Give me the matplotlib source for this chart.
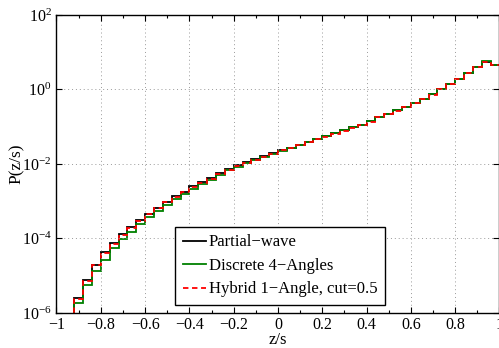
import matplotlib
matplotlib.use("Agg")
import matplotlib.pyplot as plt
import numpy as np
from matplotlib.ticker import MultipleLocator, LogLocator, NullLocator

plt.rcParams['font.family'] = ['Liberation Serif', 'DejaVu Serif']
plt.rcParams['mathtext.fontset'] = 'stix'

# bin edges (width 0.04 from -1 to 1)
edges = np.linspace(-1, 1, 51)

# log10 P(z/s) per bin
partial_log = [-9, -9, -5.60, -5.11, -4.70, -4.35, -4.12, -3.88, -3.70, -3.50,
               -3.33, -3.17, -3.02, -2.87, -2.74, -2.60, -2.49, -2.38, -2.25, -2.14,
               -2.04, -1.95, -1.87, -1.79, -1.71, -1.63, -1.56, -1.48, -1.41, -1.33,
               -1.26, -1.18, -1.10, -1.02, -0.94, -0.85, -0.74, -0.65, -0.56, -0.46,
               -0.36, -0.25, -0.13, 0.01, 0.14, 0.28, 0.44, 0.61, 0.75, 0.66]
discrete_log = [-9, -9, -5.73, -5.24, -4.88, -4.57, -4.26, -4.02, -3.83, -3.61,
                -3.43, -3.27, -3.11, -2.95, -2.81, -2.66, -2.54, -2.42, -2.29, -2.17,
                -2.07, -1.97, -1.89, -1.81, -1.72, -1.64, -1.56, -1.48, -1.41, -1.33,
                -1.26, -1.18, -1.10, -1.01, -0.94, -0.85, -0.75, -0.65, -0.56, -0.46,
                -0.36, -0.26, -0.13, 0.01, 0.14, 0.27, 0.44, 0.61, 0.76, 0.67]
hybrid_log = [-9, -9, -5.62, -5.13, -4.72, -4.38, -4.14, -3.90, -3.71, -3.52,
              -3.34, -3.18, -3.03, -2.88, -2.75, -2.61, -2.50, -2.39, -2.26, -2.15,
              -2.05, -1.96, -1.88, -1.80, -1.72, -1.63, -1.57, -1.49, -1.42, -1.34,
              -1.27, -1.19, -1.11, -1.03, -0.95, -0.86, -0.75, -0.66, -0.57, -0.47,
              -0.37, -0.26, -0.14, 0.00, 0.14, 0.28, 0.45, 0.61, 0.75, 0.66]

labels = ['Partial\u2212wave', 'Discrete 4\u2212Angles', 'Hybrid 1\u2212Angle, cut=0.5']

fig = plt.figure(figsize=(4.99, 3.48), dpi=100)
ax = fig.add_axes([0.1132, 0.1006, 0.8878, 0.8563])

ax.stairs(10.0 ** np.array(partial_log), edges, baseline=None, color='black', lw=1.3, label=labels[0])
ax.stairs(10.0 ** np.array(discrete_log), edges, baseline=None, color='#008000', lw=1.3, label=labels[1])
ax.stairs(10.0 ** np.array(hybrid_log), edges, baseline=None, color='red', lw=1.3, ls=(0, (3, 2)), label=labels[2])

ax.set_yscale('log')
ax.set_xlim(-1, 1)
ax.set_ylim(1e-6, 1e2)
ax.xaxis.set_major_locator(MultipleLocator(0.2))
ax.xaxis.set_minor_locator(MultipleLocator(0.1))
ax.yaxis.set_major_locator(LogLocator(base=100))
ax.yaxis.set_minor_locator(NullLocator())
ax.xaxis.set_major_formatter(plt.FuncFormatter(lambda v, p: '0' if abs(v) < 1e-9 else ('%g' % v).replace('-', '\u2212')))
ax.tick_params(which='both', direction='in', top=True, right=True, labelsize=11.5, width=0.8)
ax.tick_params(which='major', length=4)
ax.tick_params(which='minor', length=2.5)
ax.tick_params(axis='x', pad=3)
ax.grid(True, which='major', ls=(0, (1, 3)), color='#999999', lw=0.7)
for s in ax.spines.values():
    s.set_linewidth(1.0)

ax.set_xlabel('z/s', fontsize=12, labelpad=-1)
ax.set_ylabel('P(z/s)', fontsize=12.5)
ax.yaxis.set_label_coords(-0.072, 0.5)

leg = ax.legend(loc='lower left', bbox_to_anchor=(0.268, 0.027), fontsize=12,
                frameon=True, fancybox=False, edgecolor='black', framealpha=1,
                handlelength=1.4, borderpad=0.45, labelspacing=0.45, handletextpad=0.15,
                borderaxespad=0)
leg.get_frame().set_linewidth(1.0)

fig.savefig('out.png', dpi=100)
